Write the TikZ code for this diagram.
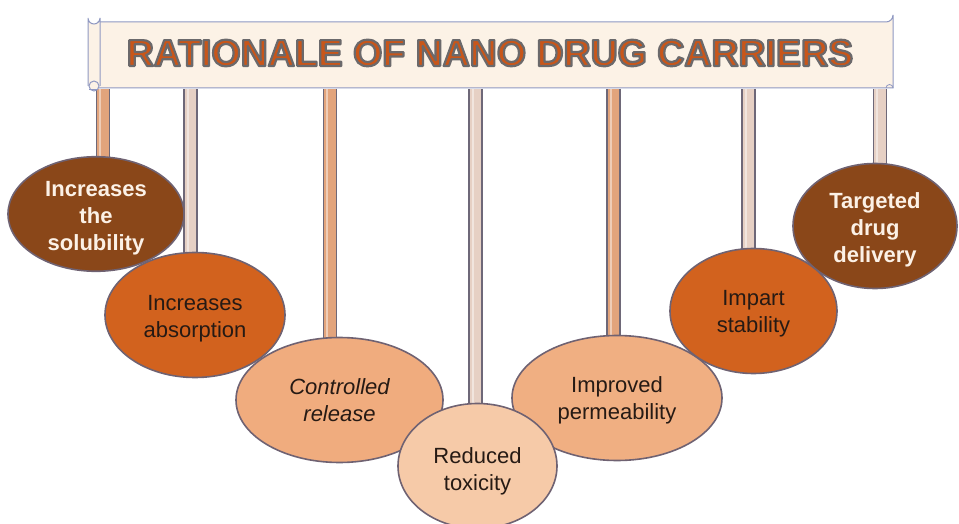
\documentclass[tikz,border=0pt]{standalone}
\usepackage{fontspec}
\setmainfont{Liberation Sans}
\usetikzlibrary{shapes.geometric,backgrounds}
\definecolor{ttl}{HTML}{C8561A}
\definecolor{banfill}{HTML}{FCF2E6}
\definecolor{banline}{HTML}{8F98C2}
\definecolor{cdark}{HTML}{8A4719}
\definecolor{corange}{HTML}{D2621E}
\definecolor{cmid}{HTML}{F0AC7E}
\definecolor{clight}{HTML}{F6CAA8}
\definecolor{cperm}{HTML}{F0AF82}
\definecolor{ring}{HTML}{6F6272}
\definecolor{txtdark}{HTML}{261A14}
\definecolor{txtlight}{HTML}{FCF1E6}
\definecolor{barA}{HTML}{E2A47C}
\definecolor{barB}{HTML}{E6D0C4}
\definecolor{barline}{HTML}{6E6878}
\newcommand{\outlinedtext}[1]{\special{pdf:literal 0.42 0.41 0.42 RG 2.2 w 1 j 2 Tr}#1\special{pdf:literal 0 Tr 0.4 w}}
\newcommand{\ovtext}[2][4pt]{\raisebox{-#1}[\height][\depth]{\begin{tabular}{@{}c@{}}#2\end{tabular}}}
\tikzset{
  oval/.style={ellipse, draw=ring, line width=1.6pt, inner sep=0pt,
    font=\fontsize{22}{27}\selectfont},
  ovaldark/.style={oval, fill=cdark, text=txtlight, font=\bfseries\fontsize{22}{27}\selectfont},
  ovalorange/.style={oval, fill=corange, text=txtdark},
  ovalmid/.style={oval, fill=cmid, text=txtdark},
  ovallight/.style={oval, fill=clight, text=txtdark},
  ovalperm/.style={oval, fill=cperm, text=txtdark},
  barstyle/.style={draw=barline, line width=1.3pt, double distance=11.5pt},
  barshine/.style={white, opacity=0.45, line width=2pt},
  bannerstyle/.style={fill=banfill, draw=banline, line width=1pt},
}
\begin{document}
\begin{tikzpicture}[x=1pt,y=-1pt]
\useasboundingbox (0,0) rectangle (959,524);
% banner
\draw[bannerstyle] (98,22) -- (886,22) arc[start angle=90,end angle=0,radius=7] -- (893,88) -- (98,88) -- cycle;
\draw[bannerstyle] (88,86) -- (88,18) arc[start angle=180,end angle=0,radius=6] -- (100,86);
\draw[bannerstyle] (94,86) circle[radius=5];
\draw[banline, line width=1pt] (89,90) -- (98,90);
\draw[banline, line width=0.8pt] (893,88) arc[start angle=0,end angle=-180,radius=3.5];
\node[font=\bfseries\fontsize{37.5}{40}\selectfont, text=ttl] (title) at (490,53) {\outlinedtext{RATIONALE OF NANO DRUG CARRIERS}};
% hanging points
\coordinate (t1) at (103,89);
\coordinate (t2) at (190.5,89);
\coordinate (t3) at (330,89);
\coordinate (t4) at (475.5,89);
\coordinate (t5) at (613.5,89);
\coordinate (t6) at (748.5,89);
\coordinate (t7) at (880,89);
% ovals
\node[ovaldark, minimum width=176pt, minimum height=110pt] (e1) at (96,214) {\ovtext{Increases\\the\\solubility}};
\node[ovalmid, minimum width=207pt, minimum height=125pt] (e3) at (339.5,400) {\itshape\ovtext[3pt]{Controlled\\release}};
\node[ovalorange, minimum width=180pt, minimum height=125pt] (e2) at (195,315) {\ovtext{Increases\\absorption}};
\node[ovalperm, minimum width=210pt, minimum height=125pt] (e5) at (617,398) {\ovtext[3pt]{Improved\\permeability}};
\node[ovaldark, minimum width=164pt, minimum height=125pt] (e7) at (875,226) {\ovtext{Targeted\\drug\\delivery}};
\node[ovalorange, minimum width=167pt, minimum height=125pt] (e6) at (753.5,311) {\ovtext[3pt]{Impart\\stability}};
\node[ovallight, minimum width=159pt, minimum height=125pt] (e4) at (477.5,466) {\ovtext[6pt]{Reduced\\toxicity}};
% bars
\begin{scope}[on background layer]
\foreach \i/\c in {1/barA,2/barB,3/barA,4/barB,5/barA,6/barB,7/barB}{
  \draw[barstyle, double=\c] (t\i) -- (t\i |- e\i.center);
  \draw[barshine] ([xshift=-3pt]t\i) -- ([xshift=-3pt]t\i |- e\i.center);
}
\end{scope}
\end{tikzpicture}
\end{document}
